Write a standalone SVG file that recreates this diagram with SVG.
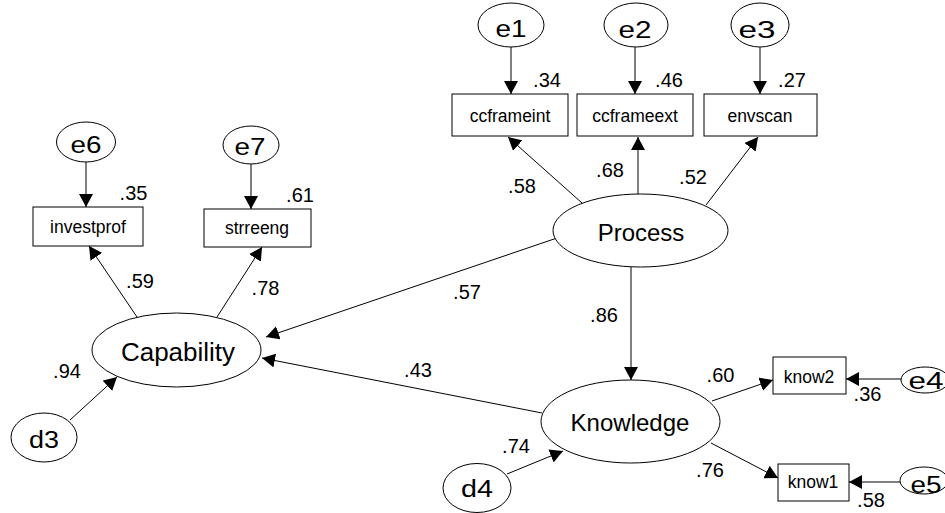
<svg xmlns="http://www.w3.org/2000/svg" width="945" height="513" viewBox="0 0 945 513">
<defs>
<marker id="arr" markerUnits="userSpaceOnUse" markerWidth="14" markerHeight="14" refX="13" refY="7" orient="auto">
<path d="M0,0 L13,7 L0,14 Z" fill="#000"/>
</marker>
<style>
.n{fill:#fff;stroke:#000;stroke-width:1}
.c line{stroke:#000;stroke-width:1;marker-end:url(#arr)}
text{font-family:"Liberation Sans",Arial,sans-serif;fill:#000;text-anchor:middle}
.lat{font-size:24px}
.obs{font-size:17.5px}
.err{font-size:23px}
.num{font-size:20px}
</style>
</defs>
<rect width="945" height="513" fill="#fff"/>
<g class="c" id="connectors">
<line x1="511" y1="47" x2="511" y2="94"/>
<line x1="635" y1="47" x2="635" y2="94"/>
<line x1="760" y1="47" x2="760" y2="94"/>
<line x1="86" y1="162" x2="86" y2="207"/>
<line x1="251" y1="164" x2="251" y2="209"/>
<line x1="582" y1="203" x2="508" y2="137"/>
<line x1="638" y1="194" x2="638" y2="137"/>
<line x1="706" y1="205" x2="758" y2="137"/>
<line x1="137" y1="317" x2="89" y2="246"/>
<line x1="217" y1="317" x2="262" y2="247"/>
<line x1="557" y1="238" x2="266" y2="337"/>
<line x1="542" y1="413" x2="262" y2="358"/>
<line x1="631" y1="267" x2="631" y2="380"/>
<line x1="70" y1="420" x2="117" y2="377"/>
<line x1="507" y1="474" x2="563" y2="451"/>
<line x1="712" y1="401" x2="773" y2="380"/>
<line x1="711" y1="443" x2="778" y2="478"/>
<line x1="901" y1="379" x2="846" y2="379"/>
<line x1="900" y1="482" x2="849" y2="482"/>
</g>
<g id="e1"><ellipse class="n" cx="511" cy="25" rx="33" ry="22"/><text class="err" x="511" y="37" textLength="31" lengthAdjust="spacingAndGlyphs">e1</text></g>
<g id="e2"><ellipse class="n" cx="636" cy="25" rx="32" ry="22"/><text class="err" x="635" y="38" textLength="33" lengthAdjust="spacingAndGlyphs">e2</text></g>
<g id="e3"><ellipse class="n" cx="760" cy="25" rx="29" ry="22"/><text class="err" x="757" y="38" textLength="37" lengthAdjust="spacingAndGlyphs">e3</text></g>
<g id="ccframeint"><rect class="n" x="452" y="94" width="116" height="42"/><text class="obs" x="510" y="122">ccframeint</text></g>
<g id="ccframeext"><rect class="n" x="577" y="94" width="116" height="42"/><text class="obs" x="635" y="122">ccframeext</text></g>
<g id="envscan"><rect class="n" x="704" y="94" width="113" height="42"/><text class="obs" x="760" y="122">envscan</text></g>
<g id="e6"><ellipse class="n" cx="86" cy="142" rx="29.5" ry="20"/><text class="err" x="86" y="153" textLength="31" lengthAdjust="spacingAndGlyphs">e6</text></g>
<g id="e7"><ellipse class="n" cx="251" cy="145" rx="28" ry="19"/><text class="err" x="250" y="155" textLength="31" lengthAdjust="spacingAndGlyphs">e7</text></g>
<g id="investprof"><rect class="n" x="33" y="207" width="110" height="39"/><text class="obs" x="88" y="233">investprof</text></g>
<g id="strreeng"><rect class="n" x="204" y="209" width="107" height="38"/><text class="obs" x="257" y="234">strreeng</text></g>
<g id="Process"><ellipse class="n" cx="640.5" cy="230.5" rx="87.5" ry="36.5"/><text class="lat" x="641" y="241">Process</text></g>
<g id="Capability"><ellipse class="n" cx="176.5" cy="350" rx="84.5" ry="37"/><text class="lat" x="178" y="361" style="font-size:26px">Capability</text></g>
<g id="Knowledge"><ellipse class="n" cx="630.5" cy="421.5" rx="89.5" ry="41.5"/><text class="lat" x="630" y="431">Knowledge</text></g>
<g id="d3"><ellipse class="n" cx="44" cy="437.5" rx="33" ry="24.5"/><text class="err" x="44" y="448" textLength="30" lengthAdjust="spacingAndGlyphs">d3</text></g>
<g id="d4"><ellipse class="n" cx="477" cy="488" rx="34" ry="24.5"/><text class="err" x="477" y="497" textLength="32" lengthAdjust="spacingAndGlyphs">d4</text></g>
<g id="know2"><rect class="n" x="773" y="357" width="73" height="37"/><text class="obs" x="809" y="383">know2</text></g>
<g id="know1"><rect class="n" x="778" y="464" width="71" height="37"/><text class="obs" x="813" y="488">know1</text></g>
<g id="e4"><ellipse class="n" cx="925" cy="380" rx="24" ry="13"/><text class="err" x="926" y="389" textLength="35" lengthAdjust="spacingAndGlyphs">e4</text></g>
<g id="e5"><ellipse class="n" cx="924" cy="480.5" rx="24" ry="13.5"/><text class="err" x="926" y="493" textLength="31" lengthAdjust="spacingAndGlyphs">e5</text></g>
<g id="labels" class="num">
<text class="num" x="547" y="87">.34</text>
<text class="num" x="669" y="87">.46</text>
<text class="num" x="792" y="87">.27</text>
<text class="num" x="522" y="193">.58</text>
<text class="num" x="610" y="177">.68</text>
<text class="num" x="693" y="184">.52</text>
<text class="num" x="133.5" y="200">.35</text>
<text class="num" x="300" y="202">.61</text>
<text class="num" x="140" y="288">.59</text>
<text class="num" x="265.5" y="295">.78</text>
<text class="num" x="467" y="299">.57</text>
<text class="num" x="604" y="322">.86</text>
<text class="num" x="418" y="377">.43</text>
<text class="num" x="67" y="378">.94</text>
<text class="num" x="720.5" y="382">.60</text>
<text class="num" x="867.5" y="401">.36</text>
<text class="num" x="516" y="453">.74</text>
<text class="num" x="710" y="477">.76</text>
<text class="num" x="871" y="507">.58</text>
</g>
</svg>
